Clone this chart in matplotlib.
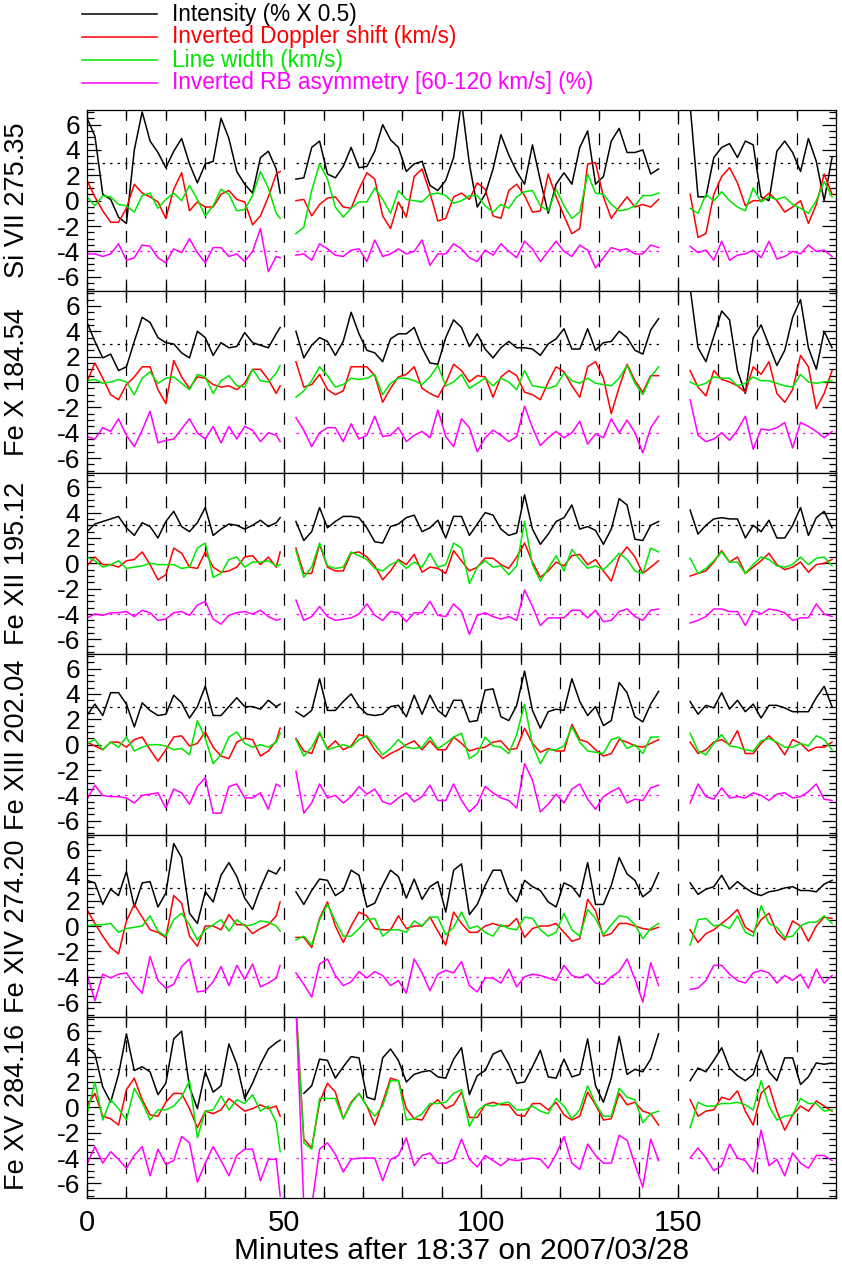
import numpy as np
import matplotlib
matplotlib.use("Agg")
import matplotlib.pyplot as plt
from matplotlib.ticker import MultipleLocator, FuncFormatter
from matplotlib.lines import Line2D

plt.rcParams['font.family'] = ['Liberation Sans', 'DejaVu Sans']

# ---------------- time grid (minutes) for the three observing segments ----------------
T1 = list(range(0, 49, 2)) + [49]
T2 = list(range(53, 146, 2))
T3 = list(range(153, 190, 2))

LINES = ["Si VII 275.35", "Fe X 184.54", "Fe XII 195.12", "Fe XIII 202.04", "Fe XIV 274.20", "Fe XV 284.16"]
SERIES = ["Intensity (% X 0.5)", "Inverted Doppler shift (km/s)", "Line width (km/s)",
          "Inverted RB asymmetry [60-120 km/s] (%)"]
INT_REF = 3.0
ASYM_REF = -4.0

nan = np.nan
# ---------------- Si VII 275.35 ----------------
si7_int = [6.5, 5.1, 0.5, 0.1, -1.3, -1.8, 4.0, 7.0, 4.7, 3.8, 2.6, 3.9, 4.9, 2.9, 1.4, 2.9, 3.1, 6.5, 4.9, 2.3, 1.3, 0.6, 3.4, 3.9, 2.5, 0.6,
           1.7, 1.8, 4.2, 4.7, 2.1, 1.8, 2.7, 4.2, 2.6, 2.7, 3.9, 6.0, 4.8, 4.2, 2.3, 2.9, 3.1, 1.2, 0.8, 1.6, 3.4,
           7.8, 2.9, -0.5, 0.5, 2.5, 5.2, 3.6, 2.3, 1.3, 4.4, 1.6, -1.0, 1.3, 2.2, 1.3, 4.2, 5.5, 1.3, 1.9, 4.7, 5.7, 3.8, 3.8, 4.0, 2.1, 2.5,
           7.5, 0.3, 0.3, 3.4, 4.2, 4.5, 3.4, 4.7, 4.4, 0.3, 0.0, 3.9, 4.7, 3.8, 2.3, 4.9, 3.1, 0.0, 3.4]
si7_dop = [1.6, 0.3, -0.8, -1.7, -1.7, -0.6, 1.3, 0.6, 0.3, -0.1, -1.4, 0.9, 2.2, -0.8, -0.1, -0.5, -0.5, 0.5, 0.8, 0.1, -0.1, -1.9, -1.2, 0.3, 2.1, 2.3,
           0.0, 0.1, -1.2, -0.3, 0.2, 0.3, -0.5, -0.6, 0.9, 2.2, 1.7, -1.2, -2.2, -0.1, -1.3, 1.9, 2.5, 0.6, -1.6, -1.4, 0.3,
           0.6, 0.1, 1.4, 0.9, -1.2, -1.4, 0.8, 1.3, 0.4, -0.9, -0.8, 2.1, 0.3, -1.2, -2.6, -2.2, 2.9, 3.0, 0.3, -1.4, -0.5, 0.3, -0.5, -0.3, -0.5, 0.1,
           0.5, -2.9, -2.6, 0.5, 1.9, 2.6, 1.4, -0.4, 0.0, 0.0, 0.6, 0.0, -0.9, -0.5, 0.0, -1.8, -0.3, 2.1, 0.5]
si7_wid = [0.3, -0.4, 0.4, 0.3, -0.3, -0.4, -0.9, 0.4, 0.6, -0.6, 0.1, 0.6, 0.0, 1.2, 0.1, -1.2, -0.4, 0.9, 0.5, -0.8, -0.7, 0.4, 2.3, 1.0, -1.0, -1.4,
           -2.6, -2.1, 0.8, 2.9, 1.7, -0.5, -1.3, -0.6, -0.1, -0.1, 1.0, 0.1, -1.0, 0.8, 0.1, 0.0, -0.1, 0.5, 0.6, 0.4, -0.2,
           0.0, 0.4, 0.4, -0.4, -0.9, -0.3, -0.6, 0.3, 0.7, 0.8, -0.4, -0.8, 0.9, -0.4, -1.4, -0.9, 2.1, 0.6, 0.5, -0.3, -0.8, -0.7, -0.4, 0.4, 0.4, 0.6,
           -0.6, -1.0, 0.5, 0.0, 0.7, 0.0, -0.5, -0.8, 1.0, -0.1, 0.3, 0.1, 0.3, -0.3, -0.6, -1.0, 0.0, 1.5, 0.3]
si7_asy = [-4.2, -4.2, -4.4, -4.2, -3.4, -4.7, -4.5, -3.5, -3.6, -4.5, -4.9, -3.8, -4.1, -3.0, -4.1, -4.9, -3.7, -3.7, -4.4, -4.2, -4.8, -4.0, -2.2, -5.6, -4.4, -4.5,
           -4.3, -4.2, -4.7, -3.4, -3.8, -4.3, -4.4, -3.9, -3.8, -4.8, -3.1, -4.4, -4.2, -3.8, -4.2, -4.0, -3.1, -5.1, -4.2, -4.2, -3.4,
           -3.8, -4.5, -4.8, -3.9, -4.3, -3.4, -4.0, -4.5, -3.2, -3.8, -4.8, -4.0, -3.2, -4.0, -4.4, -3.5, -3.9, -5.3, -4.5, -3.7, -3.9, -3.8, -4.2, -4.2, -3.5, -3.7,
           -3.6, -4.1, -3.9, -4.7, -3.2, -4.7, -4.3, -4.2, -3.9, -4.5, -3.2, -4.6, -4.4, -4.0, -4.2, -3.5, -4.0, -3.9, -4.4]

# ---------------- Fe X 184.54 ----------------
fe10_int = [4.7, 3.2, 1.9, 2.2, 0.9, 1.2, 3.2, 5.1, 4.7, 3.5, 3.1, 3.0, 2.3, 1.9, 4.0, 3.5, 2.1, 3.1, 2.7, 2.8, 3.9, 3.1, 2.9, 2.7, 3.8, 4.3,
            4.0, 1.9, 2.9, 3.5, 3.2, 2.1, 3.2, 5.5, 3.8, 2.5, 2.3, 1.6, 3.4, 3.8, 3.8, 4.3, 2.7, 1.5, 1.4, 3.5, 4.9,
            4.3, 2.8, 3.8, 2.6, 1.9, 2.7, 3.2, 2.7, 2.7, 2.6, 2.1, 3.0, 3.4, 4.2, 2.6, 2.6, 4.2, 2.5, 3.1, 3.2, 4.0, 3.5, 2.5, 2.2, 4.1, 5.0,
            7.4, 2.7, 1.6, 3.6, 5.6, 4.9, 0.9, -0.9, 3.5, 4.5, 2.9, 1.3, 2.5, 5.1, 6.5, 2.7, 1.0, 4.0, 2.7]
fe10_dop = [0.0, 1.5, 0.3, -1.0, -1.4, -0.2, 0.4, 1.2, 1.2, -0.6, -1.7, 1.7, 0.4, -0.5, 0.4, 0.3, -0.2, -0.4, -0.3, -0.6, -0.1, 1.0, 1.0, 0.2, -0.9, -0.3,
            1.6, -0.4, -0.2, 0.6, -0.6, -1.0, -0.7, 1.2, 1.2, 1.2, 0.5, -1.6, -0.5, 0.4, 0.6, 1.2, -0.5, -0.9, -1.2, -0.1, 1.4,
            0.9, 0.0, 0.5, 0.4, -1.2, 0.4, 0.9, 0.5, -0.8, -1.0, -1.4, 0.0, 1.2, 0.8, -0.3, -1.2, 1.2, 1.6, 0.3, -2.5, -0.4, 1.4, 0.1, -0.8, 0.5, 0.5,
            0.9, -0.4, -1.1, 0.9, 0.2, 0.0, -0.3, -0.8, 1.2, 0.6, 1.6, -0.9, -1.6, -0.6, 2.1, 1.2, -2.1, -0.9, 0.9]
fe10_wid = [0.1, 0.2, -0.1, 0.0, 0.2, 0.0, -1.0, 0.3, 0.8, -0.1, 0.3, 0.4, -0.1, -0.6, 0.6, 0.4, -0.9, 0.1, 0.5, -0.3, -0.4, 1.0, 0.1, 0.0, 0.7, 1.3,
            -1.2, -0.7, 0.1, 1.2, 0.5, -0.4, -0.2, 0.3, 0.2, 0.3, 0.6, -1.0, -0.1, 0.3, 0.3, 0.1, -0.2, 0.4, 1.3, -0.3, 0.0,
            0.6, -0.5, -0.1, 0.3, -0.3, 0.3, 0.0, -0.6, 0.9, -0.3, -0.4, -0.5, -0.3, 0.7, 0.1, -0.1, 0.3, -0.1, -0.2, -0.3, 0.3, 1.3, -0.1, -1.0, 0.4, 1.2,
            0.0, -0.3, -0.1, 0.4, 0.3, 0.3, -0.3, -0.1, 0.4, 0.1, 0.1, -0.1, -0.3, -0.4, 0.6, 0.0, -0.1, 0.0, 0.1]
fe10_asy = [-4.3, -4.5, -3.6, -3.9, -2.9, -4.2, -5.1, -3.8, -2.3, -4.8, -4.6, -4.5, -3.7, -2.9, -4.0, -4.5, -3.5, -4.8, -3.5, -4.5, -3.5, -3.8, -4.7, -4.0, -4.2, -4.7,
            -2.8, -3.8, -5.1, -4.0, -3.6, -3.6, -4.7, -3.3, -4.5, -4.2, -2.7, -4.3, -4.2, -3.6, -4.7, -4.2, -3.9, -4.4, -2.2, -4.3, -5.1,
            -2.9, -3.6, -5.5, -4.4, -3.8, -4.2, -4.7, -4.3, -1.9, -3.6, -5.0, -4.4, -3.9, -4.4, -4.0, -3.1, -4.9, -4.1, -4.4, -2.9, -4.0, -3.0, -4.0, -5.6, -3.6, -2.7,
            -1.4, -4.2, -4.7, -4.5, -4.0, -4.6, -3.8, -2.7, -5.3, -3.7, -3.8, -3.6, -3.2, -5.2, -3.2, -3.5, -3.9, -4.4, -3.9]

# ---------------- Fe XII 195.12 ----------------
fe12_int = [2.5, 3.1, 3.3, 3.5, 3.7, 2.8, 2.2, 3.2, 2.9, 2.0, 3.3, 4.1, 2.9, 2.5, 3.2, 4.4, 2.2, 2.7, 3.1, 3.0, 2.7, 3.0, 3.4, 2.9, 3.2, 3.6,
            3.3, 1.8, 2.5, 4.4, 2.8, 3.3, 3.7, 3.7, 3.6, 2.8, 1.7, 1.6, 2.9, 3.1, 3.6, 3.8, 2.5, 2.8, 3.4, 2.0, 3.7,
            3.7, 2.2, 3.1, 4.0, 3.8, 2.7, 2.2, 2.4, 5.4, 2.7, 1.5, 2.3, 3.3, 3.6, 4.6, 2.7, 2.9, 2.6, 1.5, 2.7, 5.1, 4.6, 1.9, 1.8, 3.0, 3.3,
            4.2, 2.3, 3.0, 3.5, 3.6, 3.5, 3.5, 2.0, 3.0, 2.5, 3.4, 2.0, 2.0, 3.0, 4.4, 2.2, 3.6, 4.1, 2.8]
fe12_dop = [-0.2, 0.5, -0.1, -0.1, -0.3, 0.2, 0.3, 0.9, -0.1, -1.3, -0.9, 1.2, 0.8, -0.3, -0.4, 0.9, -0.3, -0.7, -0.6, -0.3, 0.5, 0.6, -0.1, 0.5, -0.3, 0.9,
            1.2, -0.8, -0.8, 1.5, -0.3, -0.6, -0.6, 0.8, 0.9, 0.5, -0.2, -1.3, -0.6, 0.3, -0.1, 0.7, -0.7, -0.3, -0.4, -0.8, 1.0,
            0.2, -0.6, -0.3, 0.4, 0.4, -0.1, -0.4, 0.5, 1.6, 0.1, -1.1, -0.6, 0.1, -0.2, 0.6, 0.7, -0.1, 0.3, -0.6, -1.4, 0.5, 1.3, 0.5, -0.8, -0.3, 0.2,
            -1.0, -0.8, -0.6, 0.1, 1.0, 0.1, 0.5, -0.8, -0.3, 0.2, 0.8, -0.1, -0.5, -0.3, 0.1, -0.7, -0.1, 0.0, 0.3]
fe12_wid = [0.5, 0.2, -0.3, -0.1, 0.2, -0.4, -0.3, -0.2, 0.0, -0.1, -0.1, -0.1, -0.4, -0.3, 1.2, 1.6, -1.1, -0.8, 0.3, 0.5, -0.3, 0.1, 0.1, 0.2, -0.2, -0.1,
            1.0, -1.1, -0.3, 1.6, -0.2, -0.4, -0.3, 0.9, 0.6, 0.3, -0.4, -0.6, -0.1, 0.2, -0.4, 0.1, -0.3, 0.8, -0.3, -0.1, 1.6,
            1.2, -1.6, -0.3, 0.2, -0.3, -0.2, -0.9, -0.2, 3.3, -0.1, -1.4, -0.4, 0.6, -0.6, 1.1, 0.3, -0.4, -0.2, -0.5, 0.1, 0.8, 0.3, -0.6, -0.8, 1.2, 0.9,
            0.4, -0.8, -0.4, 0.2, 0.9, 0.1, 0.1, -0.8, -0.1, 0.5, 0.3, -0.2, -0.3, -0.1, 0.5, -0.1, 0.4, 0.5, -0.2]
fe12_asy = [-4.3, -4.0, -4.1, -3.9, -3.9, -3.8, -4.2, -3.7, -3.9, -4.5, -4.4, -3.9, -3.8, -4.1, -3.3, -3.0, -4.4, -4.8, -4.1, -3.9, -3.8, -4.0, -3.7, -4.2, -4.5, -4.4,
            -2.9, -4.5, -4.2, -3.4, -4.2, -4.5, -4.4, -4.3, -4.0, -3.2, -4.1, -4.5, -3.8, -3.9, -4.6, -3.9, -3.9, -3.0, -4.1, -4.2, -3.2,
            -3.8, -5.6, -4.1, -3.9, -4.2, -4.4, -4.2, -4.5, -2.1, -3.4, -4.9, -4.3, -4.3, -4.3, -3.7, -3.7, -4.3, -3.7, -4.6, -4.5, -3.8, -3.6, -4.2, -4.5, -3.7, -3.6,
            -4.7, -4.5, -4.2, -3.6, -3.6, -3.8, -3.8, -4.9, -3.7, -4.0, -3.6, -3.7, -3.9, -4.5, -4.3, -4.3, -3.2, -4.0, -4.2]

# ---------------- Fe XIII 202.04 ----------------
fe13_int = [2.3, 3.2, 2.3, 4.1, 4.1, 3.2, 1.4, 3.3, 2.7, 2.3, 2.4, 3.9, 3.3, 2.1, 3.0, 4.6, 2.3, 2.3, 3.0, 3.7, 3.0, 3.0, 2.8, 3.5, 3.0, 3.2,
            2.6, 2.2, 2.7, 5.2, 2.7, 2.7, 3.4, 4.0, 3.0, 2.4, 2.3, 2.4, 3.0, 3.1, 2.2, 3.9, 2.4, 3.9, 2.7, 2.2, 3.5,
            3.5, 1.8, 1.9, 4.3, 4.4, 2.2, 1.9, 3.1, 5.8, 2.7, 1.3, 2.6, 2.8, 2.7, 5.2, 3.4, 2.3, 3.0, 1.5, 1.9, 4.9, 4.1, 2.2, 1.8, 3.2, 4.2,
            3.4, 2.4, 3.1, 2.9, 4.1, 2.8, 3.5, 2.6, 3.2, 2.1, 3.1, 3.1, 2.9, 2.6, 2.6, 2.6, 3.7, 4.6, 3.0]
fe13_dop = [0.2, -0.1, -0.4, 0.2, 0.2, -0.2, 0.4, 0.6, -0.4, -1.3, -0.4, 0.6, 0.7, -0.1, 0.1, 1.0, -0.2, -0.9, -1.1, 0.2, 0.5, 0.4, -0.9, -0.5, 0.3, 1.3,
            0.5, -0.5, -0.7, 0.9, -0.3, 0.3, -0.4, -0.1, 0.8, 0.6, -0.4, -1.1, -0.7, -0.4, 0.0, 0.3, -0.4, 0.3, -0.4, -0.4, 0.6,
            0.1, -0.5, -0.3, -0.2, 0.2, 0.3, -0.4, -0.3, 1.3, 0.1, -0.6, -0.3, -0.5, -0.5, 1.6, 0.4, 0.2, -0.4, -0.9, -0.7, 0.4, 0.2, -0.1, -0.2, 0.1, 0.4,
            0.2, -0.7, -0.4, 0.2, 0.4, 0.0, 1.1, -0.7, -0.7, 0.1, 0.7, 0.1, -0.8, 0.4, 0.1, -0.5, -0.2, -0.2, 0.2]
fe13_wid = [0.1, 0.4, -0.4, 0.2, -0.2, 0.6, -0.5, -0.2, 0.0, 0.0, -0.1, -0.4, -0.3, -0.8, 1.9, 0.5, -1.5, -0.8, 0.6, 1.0, 0.1, -0.2, 0.0, -0.2, 0.2, 0.9,
            0.4, -0.9, -0.2, 1.0, -0.4, -0.2, 0.0, -0.2, 0.4, 0.7, 0.0, -0.8, -0.3, 0.4, -0.2, -0.3, -0.2, 0.6, -0.3, 0.1, 0.6,
            0.9, -1.1, -0.7, 0.6, -0.1, -0.2, -0.7, 0.8, 3.2, 0.0, -1.5, -0.4, -0.4, -0.1, 1.4, 0.2, -0.5, -0.6, -0.7, 0.4, 0.6, -0.3, 0.0, -0.7, 0.6, 0.6,
            0.9, -0.5, -0.8, 0.1, 0.8, -0.1, -0.2, -0.4, -0.5, 0.3, 0.5, 0.2, -0.2, -0.2, 0.1, -0.1, 0.7, 0.4, -0.4]
fe13_asy = [-4.3, -3.2, -4.0, -4.1, -4.1, -4.2, -4.6, -4.0, -3.9, -3.8, -5.0, -3.5, -3.8, -4.7, -3.3, -2.6, -5.4, -5.4, -3.3, -3.1, -4.2, -4.2, -3.8, -5.1, -3.1, -3.3,
            -2.1, -5.4, -4.6, -3.1, -4.2, -4.0, -4.6, -4.1, -3.3, -3.9, -3.5, -4.5, -4.7, -4.2, -3.8, -4.5, -4.1, -3.2, -4.4, -4.4, -3.1,
            -4.4, -5.3, -4.7, -3.3, -3.8, -4.2, -4.4, -5.0, -1.5, -2.8, -5.3, -4.7, -3.9, -4.6, -3.5, -3.1, -4.3, -5.1, -4.1, -3.7, -3.4, -4.6, -4.3, -4.4, -3.4, -3.2,
            -4.6, -3.1, -4.1, -4.3, -3.4, -4.2, -4.1, -4.2, -3.8, -4.0, -4.4, -3.9, -3.8, -4.2, -4.1, -3.7, -3.1, -4.3, -4.4]

# ---------------- Fe XIV 274.20 ----------------
fe14_int = [3.6, 3.4, 1.7, 2.9, 2.4, 4.3, 1.5, 3.4, 3.5, 1.5, 2.6, 6.5, 5.4, 1.0, 0.2, 2.7, 1.9, 4.0, 5.0, 3.9, 2.2, 1.3, 3.0, 4.4, 4.1, 4.6,
            2.7, 1.7, 2.8, 3.7, 3.6, 2.4, 2.8, 4.4, 4.0, 1.5, 1.8, 3.2, 4.4, 3.9, 2.2, 3.7, 2.1, 3.1, 3.5, 1.1, 4.4,
            4.9, 0.9, 1.7, 3.2, 4.4, 4.4, 2.6, 1.9, 3.6, 3.1, 2.8, 1.9, 1.5, 3.4, 3.1, 2.3, 5.0, 1.7, 1.7, 3.2, 5.4, 4.1, 3.6, 2.3, 2.8, 4.2,
            3.4, 2.5, 2.9, 3.1, 4.0, 2.9, 3.5, 3.0, 2.6, 2.4, 2.7, 2.8, 3.0, 3.1, 2.8, 2.8, 2.7, 3.3, 3.6]
fe14_dop = [1.3, 0.2, -0.8, -1.7, -2.2, 0.4, 1.7, 0.7, -0.3, -0.5, -0.9, 2.4, 1.8, -0.8, -1.6, 0.0, 0.0, -0.3, 0.9, 0.1, 0.1, -0.6, -0.2, 0.1, 0.8, 1.9,
            -0.9, -0.9, -1.7, 0.6, 1.9, 0.0, -1.3, 0.0, 1.1, 0.8, -0.2, -0.3, -0.3, 0.8, -0.2, 0.0, 0.0, 0.7, -0.4, -1.5, 1.1,
            0.2, -0.5, -0.5, 0.0, 0.2, 0.0, 0.0, 0.6, -0.9, -0.2, 0.0, 0.0, 0.2, -0.5, -1.2, -1.0, 2.1, 1.2, -0.8, -0.6, 0.2, 0.2, 0.0, -0.2, -0.3, -0.1,
            -0.3, -1.3, -0.6, -0.3, 0.2, 0.7, 1.3, -0.1, -0.5, 0.5, 1.0, -0.5, -1.1, 0.4, 0.0, -1.2, 0.0, 0.7, 0.6]
fe14_wid = [0.0, 0.1, 0.1, 0.2, -0.5, -0.2, -0.1, 0.0, 0.8, -0.4, -0.8, 0.5, 1.0, 0.1, -1.1, -0.3, 0.1, 0.5, -0.4, 0.5, 0.0, 0.1, 0.4, 0.3, 0.0, -0.4,
            -1.1, -0.8, -1.5, 0.5, 1.7, 0.4, -0.8, -0.8, -0.2, 0.5, 0.6, -0.8, -0.3, -0.3, -0.5, 0.4, 0.0, 0.7, 0.7, -0.7, -0.1,
            1.1, -0.2, 0.0, -0.5, -0.8, 0.1, -0.2, -0.3, 0.7, 0.6, -0.3, -0.8, -0.5, 1.0, -0.3, -0.8, 1.3, 0.6, -0.7, 0.1, 0.8, 0.7, 0.1, -1.0, -0.2, 0.2,
            -1.5, 0.5, 0.6, 0.0, 0.1, -0.2, 0.8, -0.5, -0.8, 1.6, 0.2, -0.1, -0.9, -0.8, 0.0, 0.3, 0.3, 0.8, 0.2]
fe14_asy = [-3.8, -5.9, -3.8, -4.1, -3.8, -3.7, -4.6, -5.3, -2.4, -4.3, -4.9, -4.6, -3.2, -2.6, -5.2, -5.1, -4.4, -3.2, -4.7, -3.1, -4.2, -3.0, -4.8, -4.5, -4.1, -3.1,
            -3.7, -4.6, -5.6, -3.0, -2.6, -3.9, -4.7, -4.4, -3.6, -4.1, -3.6, -3.9, -4.7, -4.3, -5.3, -2.6, -3.7, -5.1, -3.8, -3.5, -3.7,
            -2.8, -4.7, -5.2, -4.1, -4.1, -4.5, -3.4, -4.8, -4.0, -3.8, -3.9, -4.1, -4.3, -3.1, -3.9, -4.1, -3.8, -4.5, -4.6, -4.0, -3.6, -2.6, -4.2, -6.0, -2.9, -4.7,
            -5.0, -4.9, -4.3, -3.1, -3.1, -3.8, -4.3, -4.5, -3.7, -3.5, -3.7, -4.5, -3.9, -4.3, -3.8, -4.9, -3.4, -4.5, -3.9]

# ---------------- Fe XV 284.16 ----------------
fe15_int = [4.7, 4.2, 1.6, 0.4, 2.6, 5.8, 2.9, 3.2, 2.8, 1.0, 1.9, 5.4, 6.0, 1.6, -0.1, 2.8, 1.2, 1.7, 5.0, 3.4, 0.7, 1.9, 3.4, 4.6, 5.1, 5.3,
            nan, 1.1, 1.7, 3.8, 3.7, 2.3, 3.2, 4.0, 3.9, 0.8, 0.6, 3.9, 4.6, 3.7, 2.0, 2.6, 2.8, 2.9, 2.4, 2.3, 3.8,
            4.7, 1.0, 2.5, 2.9, 4.2, 4.5, 3.4, 1.9, 2.0, 3.2, 4.5, 2.4, 2.3, 3.8, 2.4, 2.6, 5.4, 1.7, 0.4, 2.3, 5.6, 2.6, 3.0, 2.8, 3.8, 5.8,
            2.1, 3.1, 2.8, 3.7, 4.7, 3.1, 2.5, 2.1, 2.6, 4.5, 2.8, 2.1, 3.9, 3.9, 1.8, 2.4, 3.5, 3.4, 3.5]
fe15_dop = [0.1, 1.1, -0.7, -0.9, -1.4, 1.4, 2.3, 0.6, -0.6, -0.7, 0.4, 1.1, 1.1, -0.1, -1.6, -0.3, -0.5, -0.2, 0.7, 0.2, -0.3, -0.1, 0.2, -0.1, 0.1, -0.7,
            8.0, -2.5, -3.2, 0.4, 1.9, 1.2, -0.9, 0.4, 1.1, 0.1, -1.4, 0.4, 2.3, 2.1, -0.1, -0.9, -1.0, 0.1, 0.6, -0.1, 0.2,
            1.2, -0.8, -0.8, 0.2, 0.4, 0.2, 0.2, -0.6, -0.7, 0.3, 0.3, -0.2, 0.4, -0.6, -1.0, -0.7, 1.2, 0.2, -1.0, -0.9, 1.1, 0.2, 0.4, -0.3, -0.5, -1.4,
            0.6, -0.7, -0.3, -0.2, 0.8, 0.6, 1.3, -0.3, -1.4, 1.1, 1.7, -0.3, -1.8, -0.6, 0.1, -0.3, 0.5, 0.1, -0.3]
fe15_wid = [-0.5, 2.0, -1.0, 0.6, -0.1, -1.0, 1.5, 0.4, -1.0, -0.2, -0.2, 0.1, 0.8, 2.1, -2.4, -0.3, -0.2, 0.9, -0.2, 0.6, 0.3, 1.0, -0.3, 0.1, -1.2, -3.5,
            8.0, -2.8, -3.3, 0.7, 0.7, 0.7, -0.9, 0.3, 1.1, 0.1, -0.7, 0.1, 2.1, 2.1, -1.0, -0.9, -0.5, 0.3, 0.3, 0.4, 1.1,
            1.4, -1.5, -0.3, 0.2, 0.1, 0.3, 0.4, -0.2, -0.2, 0.1, -0.3, -0.5, 0.7, 0.1, -0.9, -0.2, 1.7, 0.3, -0.7, -0.7, 1.5, 0.8, 0.6, -1.2, -0.5, -0.3,
            -1.6, 0.4, 0.1, 0.1, 0.3, 0.3, 0.4, 0.2, -0.2, 2.1, 0.1, -1.0, -0.7, -0.6, 0.7, 0.3, 0.3, -0.3, -0.2]
fe15_asy = [-4.5, -3.1, -4.4, -3.5, -4.1, -4.8, -3.8, -3.1, -5.4, -3.3, -4.5, -4.2, -2.3, -2.8, -5.9, -4.4, -3.1, -4.2, -5.4, -3.8, -3.3, -3.3, -5.8, -4.1, -4.1, -7.0,
            8.0, -7.8, -7.8, -3.3, -2.8, -3.7, -5.1, -4.1, -4.0, -4.0, -4.0, -5.8, -4.1, -3.8, -2.4, -4.6, -3.8, -3.6, -4.4, -4.4, -4.1,
            -2.5, -4.1, -4.7, -3.8, -4.2, -4.6, -4.1, -4.2, -4.1, -4.0, -4.1, -4.8, -3.7, -2.3, -4.4, -4.9, -2.9, -3.8, -4.4, -4.4, -2.2, -2.6, -4.5, -6.3, -2.5, -4.2,
            -4.0, -3.2, -4.0, -5.0, -4.6, -2.9, -4.0, -4.2, -5.1, -1.8, -4.6, -4.1, -5.4, -3.6, -4.4, -4.8, -3.8, -3.8, -4.2]

PANELS = [
    (si7_int, si7_dop, si7_wid, si7_asy),
    (fe10_int, fe10_dop, fe10_wid, fe10_asy),
    (fe12_int, fe12_dop, fe12_wid, fe12_asy),
    (fe13_int, fe13_dop, fe13_wid, fe13_asy),
    (fe14_int, fe14_dop, fe14_wid, fe14_asy),
    (fe15_int, fe15_dop, fe15_wid, fe15_asy),
]
COLORS = ["#000000", "#ff0000", "#00e600", "#ff00ff"]
DASH_TIMES = list(range(10, 190, 10))
SEGMENTS = [(T1[0], T1[-1]), (T2[0], T2[-1]), (T3[0], T3[-1])]


def segmented(vals):
    n1, n2 = len(T1), len(T2)
    x = T1 + [nan] + T2 + [nan] + T3
    y = list(vals[:n1]) + [nan] + list(vals[n1:n1 + n2]) + [nan] + list(vals[n1 + n2:])
    return np.array(x, float), np.array(y, float)


W, H = 842, 1273
fig = plt.figure(figsize=(W / 100, H / 100), dpi=100)
left, right = 87 / W, 836 / W
top, bottom = 1 - 110 / H, 1 - 1198 / H
ph = (top - bottom) / 6

for i, (label, series) in enumerate(zip(LINES, PANELS)):
    ax = fig.add_axes([left, top - (i + 1) * ph, right - left, ph])
    for t in DASH_TIMES:
        ax.axvline(t, color='black', lw=0.9, linestyle=(0, (9.5, 10)), zorder=1)
    for (a, b) in SEGMENTS:
        ax.hlines(INT_REF, a, b, colors='black', lw=0.9, linestyles=(0, (2, 4)), zorder=1)
        ax.hlines(ASYM_REF, a, b, colors='#ff00ff', lw=0.9, linestyles=(0, (2, 4)), zorder=1)
    for vals, c in zip(series, COLORS):
        x, y = segmented(vals)
        ax.plot(x, y, color=c, lw=1.1, zorder=2)
    ax.set_xlim(0, 190)
    ax.set_ylim(-7.15, 7.15)
    ax.xaxis.set_major_locator(MultipleLocator(50))
    ax.xaxis.set_minor_locator(MultipleLocator(10))
    ax.yaxis.set_major_locator(MultipleLocator(2))
    ax.yaxis.set_minor_locator(MultipleLocator(0.5))
    ax.yaxis.set_major_formatter(FuncFormatter(lambda v, p: "%d" % int(round(v))))
    ax.tick_params(which='both', direction='in', top=True, right=True, width=0.9)
    ax.tick_params(which='major', length=10)
    ax.tick_params(which='minor', length=5)
    ax.tick_params(axis='y', labelsize=19, pad=5)
    ax.tick_params(axis='x', labelsize=21, pad=8)
    for s in ax.spines.values():
        s.set_linewidth(0.9)
    ax.set_ylabel(label, fontsize=19.5)
    ax.yaxis.set_label_coords(-0.076, 0.5)
    if i < 5:
        ax.tick_params(axis='x', labelbottom=False)
    else:
        ax.set_xlabel("Minutes after 18:37 on 2007/03/28", fontsize=21.5, labelpad=0)

# legend (short line samples + coloured labels) at the top-left of the figure
for k, (name, c) in enumerate(zip(SERIES, COLORS)):
    yc = 1 - (14 + 23 * k) / H
    fig.add_artist(Line2D([82 / W, 157 / W], [yc, yc], color=c, lw=1.1, transform=fig.transFigure))
    fig.text(172 / W, yc, name, color=c, fontsize=16.3, va='center', ha='left')

fig.savefig("out.png", dpi=100)
